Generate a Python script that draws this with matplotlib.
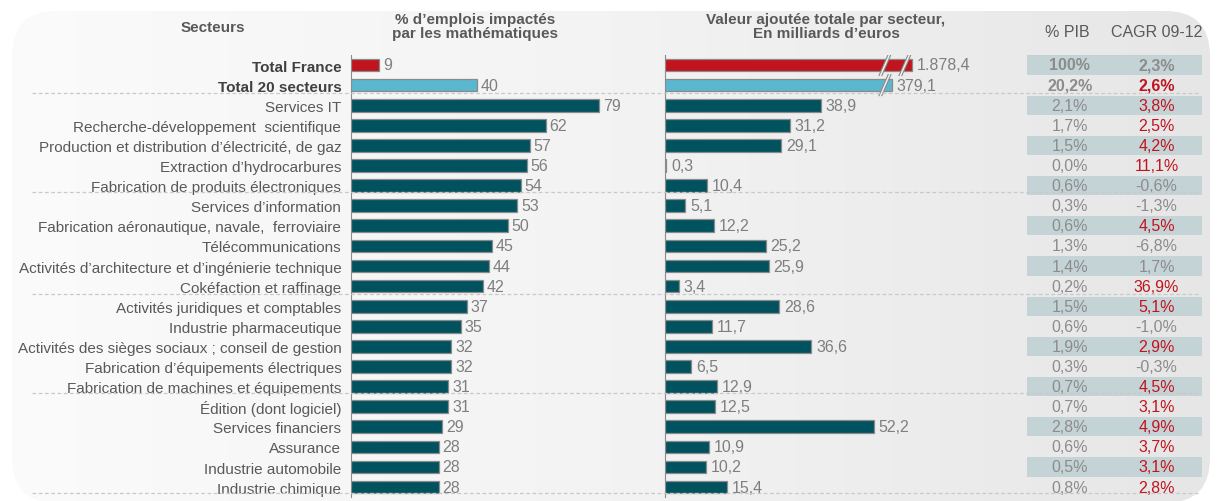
import numpy as np
import matplotlib.pyplot as plt
from matplotlib.patches import FancyBboxPatch, Polygon
from matplotlib.lines import Line2D
import matplotlib.transforms as mtransforms

# data
secteurs = ["Total France", "Total 20 secteurs", "Services IT",
            "Recherche-développement  scientifique",
            "Production et distribution d’électricité, de gaz",
            "Extraction d’hydrocarbures",
            "Fabrication de produits électroniques",
            "Services d’information",
            "Fabrication aéronautique, navale,  ferroviaire",
            "Télécommunications",
            "Activités d’architecture et d’ingénierie technique",
            "Cokéfaction et raffinage",
            "Activités juridiques et comptables",
            "Industrie pharmaceutique",
            "Activités des sièges sociaux ; conseil de gestion",
            "Fabrication d’équipements électriques",
            "Fabrication de machines et équipements",
            "Édition (dont logiciel)",
            "Services financiers",
            "Assurance",
            "Industrie automobile",
            "Industrie chimique"]
emplois = [9, 40, 79, 62, 57, 56, 54, 53, 50, 45, 44, 42, 37, 35, 32, 32, 31, 31, 29, 28, 28, 28]
valeur = [1878.4, 379.1, 38.9, 31.2, 29.1, 0.3, 10.4, 5.1, 12.2, 25.2, 25.9, 3.4,
          28.6, 11.7, 36.6, 6.5, 12.9, 12.5, 52.2, 10.9, 10.2, 15.4]
pib = [100, 20.2, 2.1, 1.7, 1.5, 0.0, 0.6, 0.3, 0.6, 1.3, 1.4, 0.2, 1.5, 0.6, 1.9, 0.3,
       0.7, 0.7, 2.8, 0.6, 0.5, 0.8]
cagr = [2.3, 2.6, 3.8, 2.5, 4.2, 11.1, -0.6, -1.3, 4.5, -6.8, 1.7, 36.9, 5.1, -1.0, 2.9,
        -0.3, 4.5, 3.1, 4.9, 3.7, 3.1, 2.8]

# the two totals are drawn with a cut axis
cut_len = [61.7, 56.7]

TEAL = "#00535e"
RED = "#c0141e"
LBLUE = "#5bb6cf"
GREY_TXT = "#595959"
VAL_TXT = "#7f7f7f"
EDGE = "#8a8a8a"
FONT = ["Liberation Sans Narrow", "Liberation Sans", "DejaVu Sans"]

plt.rcParams["font.family"] = FONT

W, H = 1222, 502
fig = plt.figure(figsize=(W / 100, H / 100), dpi=100)

# background: rounded box with a soft horizontal gradient
bg = fig.add_axes([0, 0, 1, 1])
bg.set_xlim(0, W)
bg.set_ylim(H, 0)
bg.axis("off")
grad = np.linspace(0, 1, 256).reshape(1, -1)
img = bg.imshow(grad, extent=[0, W, H, 0], cmap=plt.matplotlib.colors.LinearSegmentedColormap.from_list(
    "g", ["#fbfbfb", "#f3f3f3", "#e6e6e6"]), aspect="auto", zorder=0)
box = FancyBboxPatch((12, 12), W - 24, H - 10, boxstyle="round,pad=0,rounding_size=45",
                     transform=bg.transData, facecolor="none", edgecolor="none")
bg.add_patch(box)
img.set_clip_path(box)

n = len(secteurs)
rows = np.arange(n)
row_top, row_step = 66, 20.1
y_top = row_top - row_step / 2
y_bot = row_top + row_step * (n - 1) + row_step / 2
ax_b = 1 - y_bot / H
ax_h = (y_bot - y_top) / H


def px_axes(x0, x1):
    return fig.add_axes([x0 / W, ax_b, (x1 - x0) / W, ax_h])


bar_cols = [RED, LBLUE] + [TEAL] * (n - 2)

# left panel: % emplois
ax1 = px_axes(351, 640)
ax1.patch.set_alpha(0)
ax1.barh(rows, emplois, height=0.63, color=bar_cols, edgecolor=EDGE, linewidth=0.9, zorder=3)
ax1.set_xlim(0, 289 / 3.14)
ax1.set_ylim(n - 0.5, -0.5)
for i, v in enumerate(emplois):
    ax1.text(v + 1.2, i, f"{v}", va="center", ha="left", fontsize=11.5, color=VAL_TXT)
ax1.set_yticks(rows)
ax1.set_yticklabels(secteurs, fontsize=11, color=GREY_TXT)
for k in (0, 1):
    ax1.get_yticklabels()[k].set_fontweight("bold")
    ax1.get_yticklabels()[k].set_color("#404040")
ax1.tick_params(axis="y", length=0, pad=7)
ax1.set_xticks([])
for s in ("top", "right", "bottom"):
    ax1.spines[s].set_visible(False)
ax1.spines["left"].set_color(EDGE)

# middle panel: valeur ajoutée
ax2 = px_axes(665, 1010)
ax2.patch.set_alpha(0)
shown = [cut_len[i] if i < 2 else v for i, v in enumerate(valeur)]
ax2.barh(rows, shown, height=0.63, color=bar_cols, edgecolor=EDGE, linewidth=0.9, zorder=3)
ax2.set_xlim(0, 345 / 4)
ax2.set_ylim(n - 0.5, -0.5)
for i, v in enumerate(valeur):
    lab = f"{v:,.1f}".replace(",", " ").replace(".", ",").replace(" ", ".")
    ax2.text(shown[i] + 1.2, i, lab, va="center", ha="left", fontsize=11.5, color=VAL_TXT)
ax2.set_xticks([])
ax2.set_yticks([])
for s in ("top", "right", "bottom"):
    ax2.spines[s].set_visible(False)
ax2.spines["left"].set_color(EDGE)


def cut_mark(ax, x0, y):
    dx, w = 1.2, 0.35
    pts = [(x0 - dx - w, y + 0.55), (x0 + dx - w, y - 0.55),
           (x0 + dx + w, y - 0.55), (x0 - dx + w, y + 0.55)]
    ax.add_patch(Polygon(pts, closed=True, facecolor="#f2f2f2", edgecolor="none", zorder=4))
    for sgn in (-1, 1):
        ax.plot([x0 - dx + sgn * w, x0 + dx + sgn * w], [y + 0.55, y - 0.55],
                color=EDGE, lw=0.8, zorder=5, solid_capstyle="butt")


cut_mark(ax2, 55.0, 0)
cut_mark(ax2, 60.0, 0)
cut_mark(ax2, 55.0, 1)

# right panel: table
ax3 = px_axes(1027, 1202)
ax3.set_xlim(0, 1)
ax3.set_ylim(n - 0.5, -0.5)
ax3.axis("off")
ax3.barh(rows[::2], 1, height=0.95, left=0, color="#c4d3d6", zorder=1)
ax3.axhline(-0.62, color="#4f8690", lw=2.2, zorder=3)
ax3.axhline(n - 0.32, color="#6f9aa2", lw=2.2, zorder=3)
for i in rows:
    p = "100%" if pib[i] == 100 else f"{pib[i]:.1f}%".replace(".", ",")
    c = f"{cagr[i]:.1f}%".replace(".", ",")
    wt = "bold" if i < 2 else "normal"
    ccol = RED if cagr[i] > cagr[0] else "#8c8c8c"
    ax3.text(0.245, i, p, ha="center", va="center", fontsize=11.5, color="#8c8c8c",
             fontweight=wt, zorder=4)
    ax3.text(0.74, i, c, ha="center", va="center", fontsize=11.5, color=ccol,
             fontweight=wt, zorder=4)

# dashed group separators across the whole chart
blend = mtransforms.blended_transform_factory(fig.transFigure, ax1.transData)
for yy in (1.4, 6.3, 11.4, 16.3, 21.3):
    fig.add_artist(Line2D([32 / W, 1198 / W], [yy, yy], transform=blend, color="#c9c9c9",
                          lw=0.9, ls=(0, (3, 2)), zorder=1))

# headers
hdr = dict(ha="center", va="center", fontsize=11, color=GREY_TXT, fontweight="bold")
fig.text(213 / W, 1 - 28 / H, "Secteurs", **hdr)
fig.text(475 / W, 1 - 27 / H, "% d’emplois impactés\npar les mathématiques", linespacing=1.0, **hdr)
fig.text(826 / W, 1 - 27 / H, "Valeur ajoutée totale par secteur,\nEn milliards d’euros",
         linespacing=1.0, **hdr)
fig.text(1067 / W, 1 - 33 / H, "% PIB", ha="center", va="center", fontsize=11.5, color=GREY_TXT)
fig.text(1157 / W, 1 - 33 / H, "CAGR 09-12", ha="center", va="center", fontsize=11.5,
         color=GREY_TXT)

fig.savefig("out.png", dpi=100)
